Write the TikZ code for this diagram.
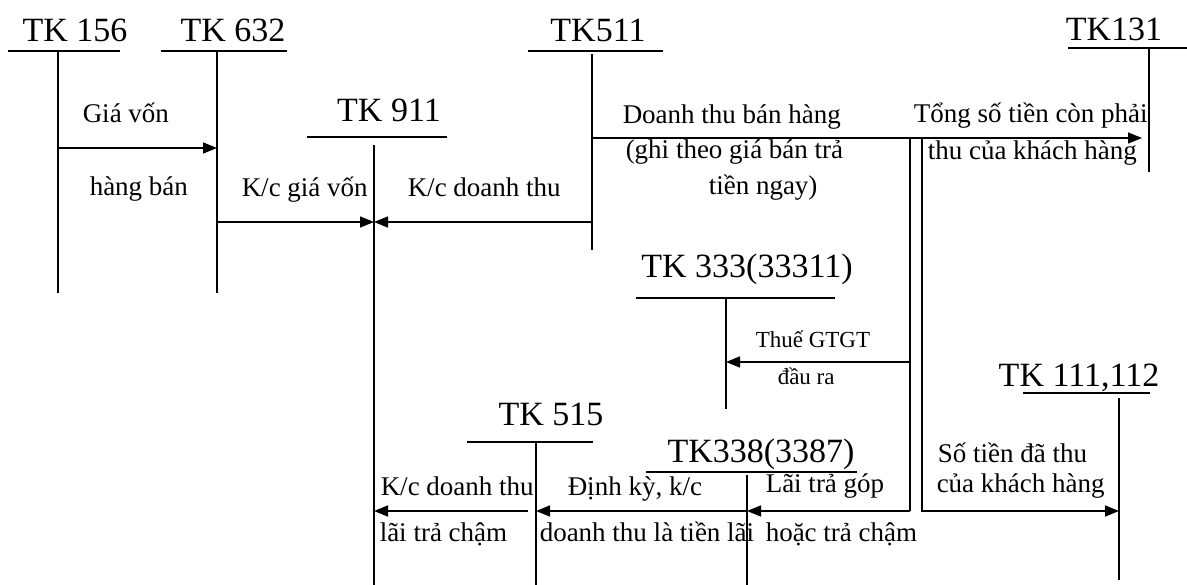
\documentclass[tikz,border=0pt]{standalone}
\usepackage{fontspec}
\setmainfont{Liberation Serif}
\usetikzlibrary{arrows.meta}

\tikzset{
  acct/.style={inner sep=0, anchor=base, font=\fontsize{34}{40}\selectfont},
  lbl/.style={inner sep=0, anchor=base west, font=\fontsize{27}{32}\selectfont},
  sml/.style={inner sep=0, anchor=base west, font=\fontsize{23}{28}\selectfont},
  arr/.style={-{Triangle[length=14pt,width=11pt]}},
}

\begin{document}
\begin{tikzpicture}[x=1pt, y=-1pt, line width=1.5pt]
\useasboundingbox (0,0) rectangle (1187,585);

% account titles
\node[acct] (T156) at (75,42)   {TK 156};
\node[acct] (T632) at (233,42)  {TK 632};
\node[acct] (T911) at (389,122) {TK 911};
\node[acct] (T511) at (598,42)  {TK511};
\node[acct] (T131) at (1114,41) {TK131};
\node[acct] (T333) at (747,278) {TK 333(33311)};
\node[acct] (T111) at (1079,387) {TK 111,112};
\node[acct] (T515) at (551,425) {TK 515};
\node[acct] (T338) at (761,463) {TK338(3387)};

% T lines
\draw (8,51) -- (120,51);      \draw (58,51) -- (58,293);
\draw (161,51) -- (287,51);    \draw (217,51) -- (217,293);
\draw (307,137) -- (447,137);  \draw (374,145) -- (374,585);
\draw (528,51) -- (663,51);    \draw (592,54) -- (592,250);
\draw (1068,48) -- (1187,48);  \draw (1149,48) -- (1149,172);
\draw (636,298) -- (835,298);  \draw (726,298) -- (726,409);
\draw (1023,393) -- (1150,393); \draw (1119,398) -- (1119,580);
\draw (467,442) -- (593,442);  \draw (536,442) -- (536,585);
\draw (646,472) -- (857,472);  \draw (747,475) -- (747,585);

% arrow ends
\coordinate (a156) at (58,148);
\coordinate (a632) at (217,148);
\coordinate (b632) at (217,222);
\coordinate (b911) at (374,222);
\coordinate (b511) at (592,222);
\coordinate (c511) at (592,138);
\coordinate (c131) at (1142,138);
\coordinate (s1) at (910,138);
\coordinate (s2) at (922,138);
\coordinate (s1m) at (910,362);
\coordinate (c333) at (726,362);
\coordinate (s1b) at (910,511);
\coordinate (s2b) at (922,511);
\coordinate (c338) at (747,511);
\coordinate (c515) at (536,511);
\coordinate (d515) at (528,511);
\coordinate (d911) at (374,511);
\coordinate (c111) at (1119,511);

\draw[arr] (a156) -- (a632);
\draw[arr] (b632) -- (b911);
\draw[arr] (b511) -- (b911);
\draw[arr] (c511) -- (c131);
\draw (s1) -- (s1b);
\draw[arr] (s1m) -- (c333);
\draw[arr] (s1b) -- (c338);
\draw[arr] (c338) -- (c515);
\draw[arr] (d515) -- (d911);
\draw[arr] (s2) -- (s2b) -- (c111);

% labels
\node[lbl] (l1) at (82,123)  {Giá vốn};
\node[lbl] (l2) at (89,196)  {hàng bán};
\node[lbl] (l3) at (241,197) {K/c giá vốn};
\node[lbl] (l4) at (407,197) {K/c doanh thu};
\node[lbl] (l5) at (622,124) {Doanh thu bán hàng};
\node[lbl] (l6) at (625,159) {(ghi theo giá bán trả};
\node[lbl] (l7) at (708,195) {tiền ngay)};
\node[lbl] (l8) at (913,123) {Tổng số tiền còn phải};
\node[lbl] (l9) at (927,160) {thu của khách hàng};
\node[sml] (l10) at (755,348) {Thuế GTGT};
\node[sml] (l11) at (777,385) {đầu ra};
\node[lbl] (l12) at (937,462) {Số tiền đã thu};
\node[lbl] (l13) at (936,493) {của khách hàng};
\node[lbl] (l14) at (380,495) {K/c doanh thu};
\node[lbl] (l15) at (379,541) {lãi trả chậm};
\node[lbl] (l16) at (567,495) {Định kỳ, k/c};
\node[lbl] (l17) at (539,541) {doanh thu là tiền lãi};
\node[lbl] (l18) at (765,493) {Lãi trả góp};
\node[lbl] (l19) at (765,541) {hoặc trả chậm};
\end{tikzpicture}
\end{document}
